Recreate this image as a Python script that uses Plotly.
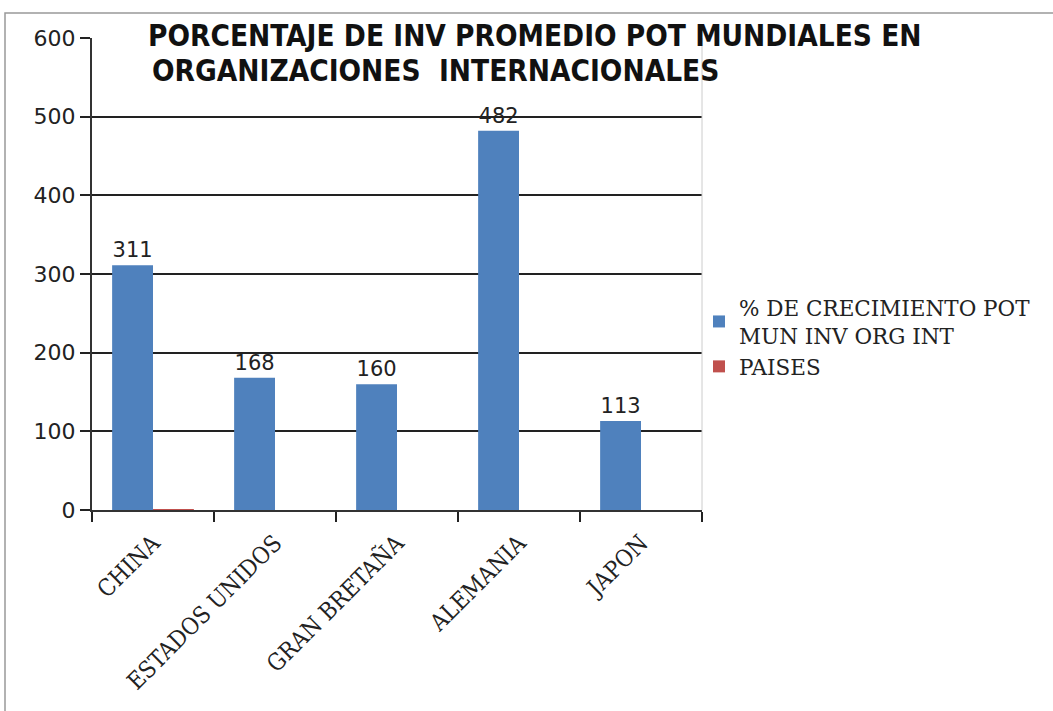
import plotly.graph_objects as go

categories = ["CHINA", "ESTADOS UNIDOS", "GRAN BRETAÑA", "ALEMANIA", "JAPON"]
crecimiento = [311, 168, 160, 482, 113]
paises = [1, 0, 0, 0, 0]
series_names = ["% DE CRECIMIENTO POT<br>MUN INV ORG INT", "PAISES"]
title_lines = ["PORCENTAJE DE INV PROMEDIO POT MUNDIALES EN",
               "ORGANIZACIONES  INTERNACIONALES"]

W, H = 1053, 711
L, R, T, B = 92, 351, 38, 201
PW, PH = W - L - R, H - T - B

def px_x(p):  # page px -> paper x
    return (p - L) / PW

def px_y(p):  # page px -> paper y
    return (H - B - p) / PH

fig = go.Figure()
fig.add_trace(go.Bar(
    x=categories, y=crecimiento, name=series_names[0],
    marker=dict(color="#4f81bd", line=dict(width=0)),
    text=[str(v) for v in crecimiento], textposition="outside",
    textfont=dict(family="DejaVu Sans", size=21, color="#222"),
    cliponaxis=False,
))
fig.add_trace(go.Bar(
    x=categories, y=paises, name=series_names[1],
    marker=dict(color="#c0504d", line=dict(width=0)),
))

title_font = dict(family="DejaVu Sans Condensed", size=29.5, color="#111")
annotations = [
    dict(text="<b>" + title_lines[0] + "</b>", xref="paper", yref="paper",
         x=px_x(146), y=px_y(36), xanchor="left", yanchor="middle",
         showarrow=False, font=title_font),
    dict(text="<b>" + title_lines[1] + "</b>", xref="paper", yref="paper",
         x=px_x(150), y=px_y(71), xanchor="left", yanchor="middle",
         showarrow=False, font=title_font),
]

fig.update_layout(
    width=W, height=H,
    margin=dict(l=L, r=R, t=T, b=B),
    paper_bgcolor="white", plot_bgcolor="white",
    barmode="group", bargap=0.33, bargroupgap=0,
    showlegend=True,
    legend=dict(x=px_x(699), y=px_y(337), xanchor="left", yanchor="middle",
                font=dict(family="DejaVu Serif", size=21.5, color="#222"),
                tracegroupgap=4, itemwidth=30, bgcolor="rgba(0,0,0,0)"),
    annotations=annotations,
    shapes=[
        dict(type="rect", xref="paper", yref="paper",
             x0=px_x(5), x1=px_x(1060), y0=px_y(720), y1=px_y(13),
             line=dict(color="#999", width=1.5), layer="below"),
        dict(type="line", xref="paper", yref="paper", x0=1, x1=1, y0=0, y1=1,
             line=dict(color="#ccc", width=1)),
    ],
)
fig.update_yaxes(
    range=[0, 600], dtick=100, showgrid=True, gridcolor="#222", gridwidth=2,
    showline=True, linecolor="#333", linewidth=2,
    ticks="outside", ticklen=10, tickcolor="#222", tickwidth=2,
    tickfont=dict(family="DejaVu Sans", size=22, color="#222"),
    zeroline=False,
)
fig.update_xaxes(
    showline=True, linecolor="#333", linewidth=2,
    ticks="outside", ticklen=10, tickson="boundaries", tickcolor="#222", tickwidth=2,
    tickangle=-45, ticklabelstandoff=8,
    tickfont=dict(family="DejaVu Serif Condensed", size=23.5, color="#222"),
    showgrid=False,
)
fig.write_html("out.html", config={"displayModeBar": False},
               post_script="document.body.style.margin='0px';document.body.style.overflow='hidden';")
